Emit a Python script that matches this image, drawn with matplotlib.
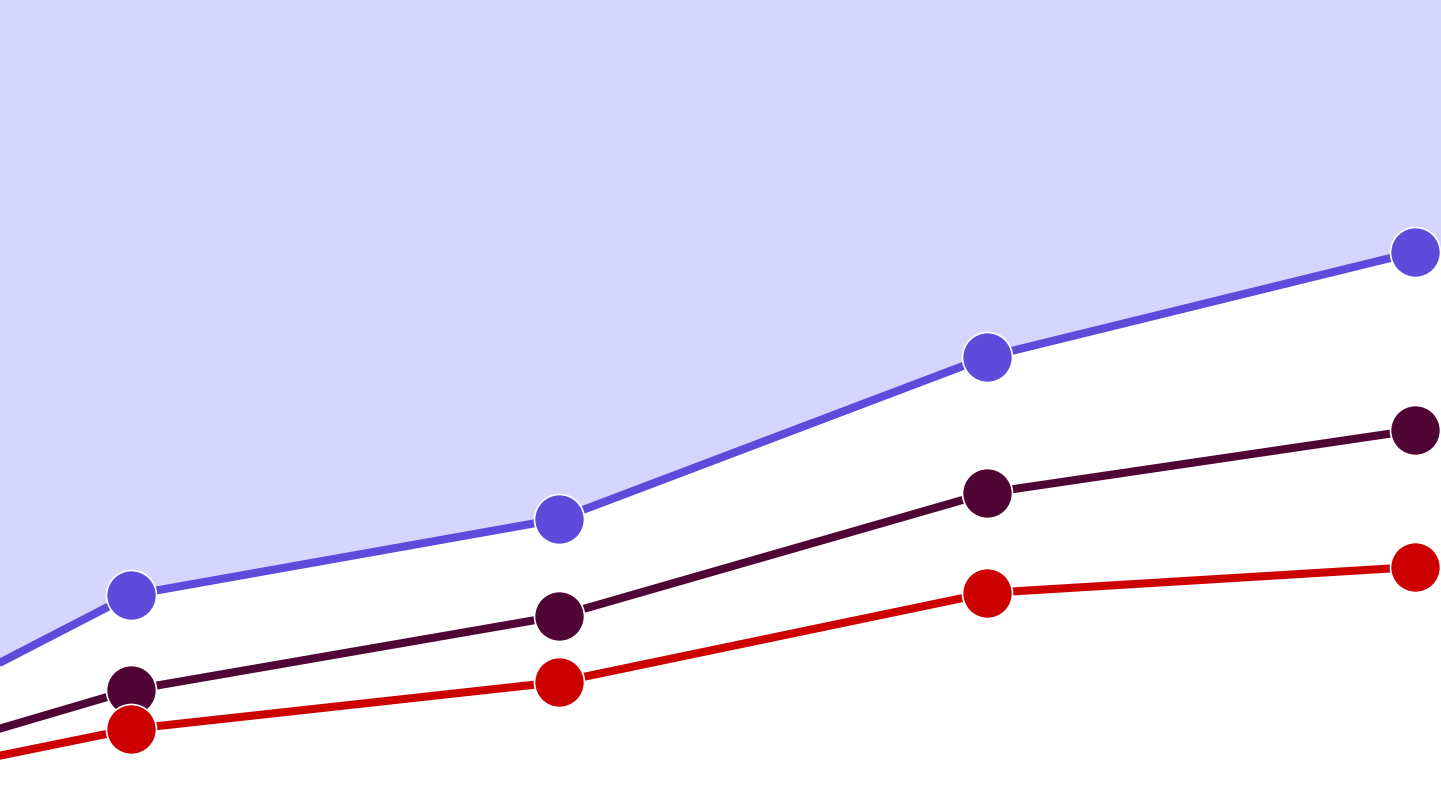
import numpy as np
import matplotlib
matplotlib.use('Agg')
import matplotlib.pyplot as plt

# category positions (first one sits off the left edge of the view)
periods = [0, 1, 2, 3, 4]

blue_vals = [0, 221, 297, 459, 564]
dark_vals = [0, 126, 200, 323, 386]
red_vals = [0, 87, 134, 223, 249]

colors = {'blue': '#5E4BDB', 'dark': '#4F0634', 'red': '#CC0000'}
fill_color = '#D5D5FF'

fig = plt.figure(figsize=(14.41, 8.11), dpi=100)
ax = fig.add_axes([0, 0, 1, 1])

x_lo, x_hi = 0.694, 4.061
y_lo, y_hi = 5, 816
ax.set_xlim(x_lo, x_hi)
ax.set_ylim(y_lo, y_hi)

# shaded region above the top series, carried on to the right edge
x_fill = np.append(periods, x_hi)
y_fill = np.append(blue_vals, blue_vals[-1])
ax.fill_between(x_fill, y_fill, y_hi, color=fill_color, lw=0, zorder=1)

for vals, key in [(blue_vals, 'blue'), (dark_vals, 'dark'), (red_vals, 'red')]:
    ax.plot(periods, vals, color=colors[key], lw=5.8, marker='o', markersize=36,
            markeredgecolor='white', markeredgewidth=1.2, zorder=3,
            solid_capstyle='butt')

ax.axis('off')
fig.savefig('out.png', dpi=100)
